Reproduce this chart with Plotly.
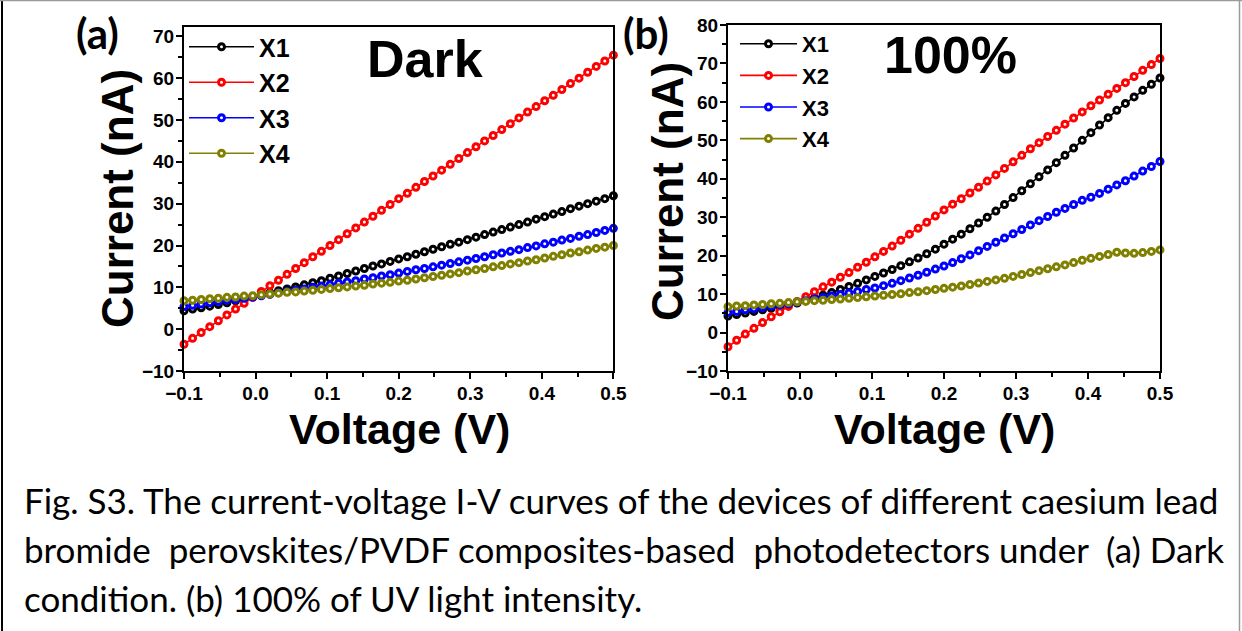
import plotly.graph_objects as go

# ---------------- data ----------------
voltage = [-0.1, -0.088, -0.076, -0.064, -0.052, -0.04, -0.028, -0.016, -0.004, 0.008,
           0.02, 0.032, 0.044, 0.056, 0.068, 0.08, 0.092, 0.104, 0.116, 0.128,
           0.14, 0.152, 0.164, 0.176, 0.188, 0.2, 0.212, 0.224, 0.236, 0.248,
           0.26, 0.272, 0.284, 0.296, 0.308, 0.32, 0.332, 0.344, 0.356, 0.368,
           0.38, 0.392, 0.404, 0.416, 0.428, 0.44, 0.452, 0.464, 0.476, 0.488, 0.5]

series_names = ["X1", "X2", "X3", "X4"]
series_colors = ["#000000", "#FF0000", "#0000FF", "#808000"]

# (a) Dark
dark_x1 = [4.4, 4.8, 5.1, 5.5, 5.9, 6.3, 6.8, 7.2, 7.7, 8.2, 8.7, 9.2, 9.6, 10.1, 10.6, 11.1, 11.6,
           12.2, 12.7, 13.3, 13.9, 14.5, 15.1, 15.6, 16.2, 16.8, 17.3, 17.9, 18.5, 19.1, 19.7, 20.3,
           20.8, 21.4, 22.0, 22.6, 23.2, 23.8, 24.4, 25.0, 25.6, 26.3, 26.9, 27.5, 28.1, 28.8, 29.4,
           30.0, 30.6, 31.2, 31.9]
dark_x2 = [-3.6, -2.2, -0.8, 0.6, 2.0, 3.4, 4.8, 6.2, 7.6, 9.0, 10.4, 11.7, 13.1, 14.5, 15.9, 17.3,
           18.6, 20.0, 21.4, 22.8, 24.2, 25.6, 27.0, 28.4, 29.8, 31.2, 32.5, 33.9, 35.3, 36.6, 38.0,
           39.4, 40.8, 42.2, 43.6, 45.0, 46.3, 47.7, 49.1, 50.5, 51.9, 53.2, 54.6, 55.9, 57.3, 58.7,
           60.0, 61.4, 62.8, 64.1, 65.5]
dark_x3 = [5.4, 5.7, 6.0, 6.3, 6.6, 6.9, 7.1, 7.4, 7.7, 8.0, 8.3, 8.7, 9.0, 9.3, 9.6, 10.0, 10.3,
           10.6, 11.0, 11.3, 11.6, 12.0, 12.3, 12.7, 13.0, 13.4, 13.8, 14.2, 14.5, 14.9, 15.3, 15.7,
           16.1, 16.5, 16.9, 17.3, 17.8, 18.2, 18.6, 19.0, 19.5, 19.9, 20.4, 20.8, 21.3, 21.7, 22.2,
           22.6, 23.1, 23.6, 24.1]
dark_x4 = [6.8, 6.9, 7.1, 7.3, 7.4, 7.6, 7.7, 7.9, 8.0, 8.2, 8.4, 8.6, 8.8, 8.9, 9.1, 9.3, 9.5,
           9.7, 9.9, 10.1, 10.3, 10.5, 10.8, 11.0, 11.2, 11.5, 11.7, 12.0, 12.3, 12.6, 12.9, 13.2,
           13.5, 13.9, 14.2, 14.5, 14.9, 15.2, 15.6, 15.9, 16.3, 16.6, 17.0, 17.4, 17.8, 18.2, 18.5,
           18.9, 19.3, 19.6, 20.0]

# (b) 100 % UV
uv_x1 = [4.3, 4.7, 5.1, 5.5, 5.9, 6.3, 6.8, 7.2, 7.7, 8.3, 9.0, 9.7, 10.4, 11.2, 12.0, 12.8, 13.7,
         14.6, 15.5, 16.4, 17.4, 18.4, 19.4, 20.5, 21.7, 23.0, 24.3, 25.6, 27.0, 28.5, 30.0, 31.6,
         33.3, 35.1, 36.9, 38.7, 40.5, 42.3, 44.2, 46.1, 48.0, 50.0, 52.0, 54.0, 55.9, 57.8, 59.6,
         61.3, 63.0, 64.6, 66.2]
uv_x2 = [-3.7, -2.0, -0.4, 1.1, 2.6, 4.1, 5.4, 6.8, 8.1, 9.3, 10.6, 11.9, 13.1, 14.4, 15.6, 17.0,
         18.3, 19.7, 21.1, 22.5, 24.0, 25.6, 27.1, 28.7, 30.3, 31.9, 33.4, 34.8, 36.3, 37.8, 39.4,
         41.0, 42.7, 44.4, 46.1, 47.8, 49.4, 51.0, 52.6, 54.2, 55.8, 57.4, 59.0, 60.5, 62.0, 63.5,
         65.0, 66.6, 68.2, 69.7, 71.3]
uv_x3 = [5.2, 5.5, 5.9, 6.2, 6.5, 6.9, 7.2, 7.5, 7.9, 8.3, 8.7, 9.1, 9.5, 9.9, 10.3, 10.7, 11.2,
         11.6, 12.2, 12.8, 13.5, 14.2, 14.9, 15.7, 16.5, 17.3, 18.2, 19.2, 20.2, 21.3, 22.4, 23.5,
         24.6, 25.7, 26.8, 28.0, 29.1, 30.2, 31.3, 32.3, 33.3, 34.4, 35.2, 36.2, 37.3, 38.4, 39.5,
         40.7, 42.0, 43.2, 44.5]
uv_x4 = [6.7, 6.9, 7.0, 7.2, 7.3, 7.5, 7.6, 7.8, 8.0, 8.1, 8.3, 8.4, 8.6, 8.7, 8.9, 9.1, 9.3,
         9.5, 9.7, 9.9, 10.1, 10.4, 10.6, 10.9, 11.2, 11.5, 11.8, 12.1, 12.5, 12.9, 13.3, 13.7,
         14.1, 14.6, 15.1, 15.6, 16.1, 16.6, 17.1, 17.6, 18.2, 18.8, 19.3, 19.8, 20.3, 20.9, 20.7,
         20.6, 20.8, 21.1, 21.5]

x_tickvals = [-0.1, 0.0, 0.1, 0.2, 0.3, 0.4, 0.5]
x_ticktext = ["\u22120.1", "0.0", "0.1", "0.2", "0.3", "0.4", "0.5"]
ya_tickvals = [-10, 0, 10, 20, 30, 40, 50, 60, 70]
yb_tickvals = [-10, 0, 10, 20, 30, 40, 50, 60, 70, 80]

panel_labels = ["(a)", "(b)"]
panel_titles = ["Dark", "100%"]
x_title = "Voltage (V)"
y_title = "Current (nA)"
caption_line1 = "Fig. S3. The current-voltage I-V curves of the devices of different caesium lead"
caption_line2_words = ["bromide", "perovskites/PVDF", "composites-based", "photodetectors",
                       "under", "(a)", "Dark"]
caption_line3 = "condition. (b) 100% of UV light intensity."

# ---------------- layout helpers ----------------
W, H = 1242, 631


def px(x):
    return x / W


def py(y):
    return 1 - y / H


def ytick_text(vals):
    return [("\u2212" + str(-v)) if v < 0 else str(v) for v in vals]


fig = go.Figure()

for ys, name, col in zip([dark_x1, dark_x2, dark_x3, dark_x4], series_names, series_colors):
    fig.add_trace(go.Scatter(
        x=voltage, y=ys, name=name, mode="lines+markers", xaxis="x", yaxis="y",
        legend="legend", cliponaxis=False,
        line=dict(color=col, width=1.6),
        marker=dict(symbol="circle", size=6, color="white", line=dict(color=col, width=3)),
    ))

for ys, name, col in zip([uv_x1, uv_x2, uv_x3, uv_x4], series_names, series_colors):
    fig.add_trace(go.Scatter(
        x=voltage, y=ys, name=name, mode="lines+markers", xaxis="x2", yaxis="y2",
        legend="legend2", cliponaxis=False,
        line=dict(color=col, width=1.6),
        marker=dict(symbol="circle", size=6, color="white", line=dict(color=col, width=3)),
    ))

tick_font = dict(family="Liberation Sans, Arial", size=19, color="black", weight="bold")
axis_common = dict(
    showline=True, linecolor="black", linewidth=2, mirror=True, automargin=False,
    ticks="outside", ticklen=6, tickwidth=2, tickcolor="black", ticklabelstandoff=-2,
    showgrid=False, zeroline=False, tickfont=tick_font,
)
minor_common = dict(ticks="outside", ticklen=4, tickwidth=1.5, tickcolor="black",
                    tickmode="linear", showgrid=False)

xa = dict(axis_common, range=[-0.1, 0.5], tickmode="array", tickvals=x_tickvals,
          ticktext=x_ticktext, minor=dict(minor_common, tick0=-0.1, dtick=0.05))
fig.update_layout(
    xaxis=dict(xa, domain=[px(184), px(613.4)], anchor="y"),
    yaxis=dict(axis_common, domain=[py(371), py(26.7)], anchor="x", range=[-10, 72.3],
               tickmode="array", tickvals=ya_tickvals, ticktext=ytick_text(ya_tickvals),
               minor=dict(minor_common, tick0=-10, dtick=5)),
    xaxis2=dict(xa, domain=[px(728), px(1160)], anchor="y2"),
    yaxis2=dict(axis_common, domain=[py(371), py(25)], anchor="x2", range=[-10, 80],
                tickmode="array", tickvals=yb_tickvals, ticktext=ytick_text(yb_tickvals),
                minor=dict(minor_common, tick0=-10, dtick=5)),
)

legend_font_a = dict(family="Liberation Sans, Arial", size=25, color="black", weight="bold")
legend_font_b = dict(family="Liberation Sans, Arial", size=22, color="black", weight="bold")
fig.update_layout(
    legend=dict(x=px(184), y=py(24), xanchor="left", yanchor="top", font=legend_font_a,
                bgcolor="rgba(0,0,0,0)", borderwidth=0, itemwidth=65,
                itemclick=False, itemdoubleclick=False),
    legend2=dict(x=px(735), y=py(23), xanchor="left", yanchor="top", font=legend_font_b,
                 bgcolor="rgba(0,0,0,0)", borderwidth=0, itemwidth=57,
                 itemclick=False, itemdoubleclick=False),
)

ann = []
bold_font = "Liberation Sans, Arial"
for lbl, cx in zip(panel_labels, [97, 646]):
    ann.append(dict(x=px(cx), y=py(33), text=lbl, showarrow=False,
                    font=dict(family="Lato", size=42, color="black", weight="bold"),
                    xanchor="center", yanchor="middle"))
ann.append(dict(x=px(425), y=py(59), text=panel_titles[0], showarrow=False,
                font=dict(family=bold_font, size=52, color="black", weight="bold"),
                xanchor="center", yanchor="middle"))
ann.append(dict(x=px(950), y=py(55), text=panel_titles[1], showarrow=False,
                font=dict(family=bold_font, size=52, color="black", weight="bold"),
                xanchor="center", yanchor="middle"))
for cx in [399, 944]:
    ann.append(dict(x=px(cx), y=py(429), text=x_title, showarrow=False,
                    font=dict(family=bold_font, size=43, color="black", weight="bold"),
                    xanchor="center", yanchor="middle"))
for cx, cy in [(118, 199), (667, 192)]:
    ann.append(dict(x=px(cx), y=py(cy), text=y_title, showarrow=False, textangle=-90,
                    font=dict(family=bold_font, size=44, color="black", weight="bold"),
                    xanchor="center", yanchor="middle"))

cap_font = dict(family="Lato", size=35, color="black")
# justified second line: a little extra room in every other gap
gaps = ["\u00a0 ", " ", "\u00a0 ", " ", "\u00a0 ", " "]
line2 = caption_line2_words[0]
for g, w in zip(gaps, caption_line2_words[1:]):
    line2 += g + w
for line, cy in zip([caption_line1, line2, caption_line3], [500, 549, 598]):
    ann.append(dict(x=px(22), y=py(cy), text=line, showarrow=False, font=cap_font,
                    xanchor="left", yanchor="middle"))

for a in ann:
    a["xref"] = "paper"
    a["yref"] = "paper"

shapes = [
    dict(type="line", xref="paper", yref="paper", x0=px(2), x1=px(2), y0=0, y1=1,
         line=dict(color="black", width=2)),
    dict(type="line", xref="paper", yref="paper", x0=0, x1=1, y0=py(0.5), y1=py(0.5),
         line=dict(color="#9a9a9a", width=1.5)),
    dict(type="line", xref="paper", yref="paper", x0=px(1239.5), x1=px(1239.5), y0=0, y1=1,
         line=dict(color="#9a9a9a", width=1.5)),
]

fig.update_layout(
    width=W, height=H, margin=dict(l=0, r=0, t=0, b=0, autoexpand=False),
    paper_bgcolor="white", plot_bgcolor="white",
    annotations=ann, shapes=shapes, showlegend=True,
)

fig.write_html(
    "out.html",
    config={"displayModeBar": False},
    post_script="document.body.style.margin='0px';document.body.style.overflow='hidden';",
)
